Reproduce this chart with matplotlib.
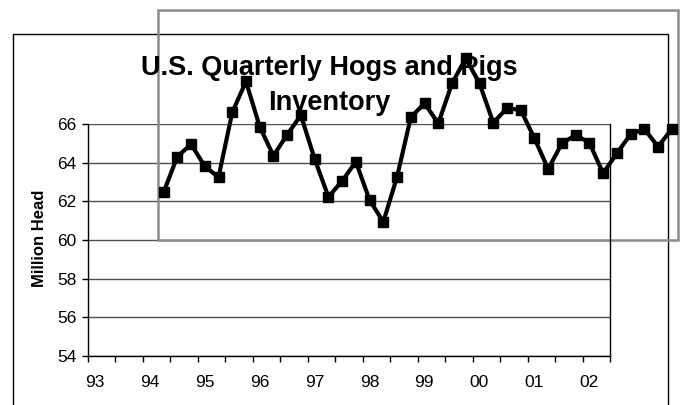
import matplotlib.pyplot as plt
import numpy as np
from matplotlib.patches import Rectangle
from matplotlib.transforms import blended_transform_factory

plt.rcParams['font.family'] = ['Liberation Sans', 'DejaVu Sans']

# quarterly inventory, million head (first quarter shown is 1994 Q2)
inventory = [62.46, 64.31, 64.95, 63.82, 63.24, 66.60, 68.20, 65.86, 64.36, 65.45,
             66.45, 64.19, 62.23, 63.05, 64.05, 62.06, 60.94, 63.27, 66.35, 67.07,
             66.03, 68.10, 69.40, 68.10, 66.07, 66.81, 66.73, 65.26, 63.67, 65.00,
             65.43, 65.03, 63.45, 64.48, 65.47, 65.74, 64.83, 65.74]
first_quarter = 94.375
year_labels = ['93', '94', '95', '96', '97', '98', '99', '00', '01', '02']
year_starts = [93, 94, 95, 96, 97, 98, 99, 100, 101, 102]
y_ticks = [54, 56, 58, 60, 62, 64, 66]
title_lines = ['U.S. Quarterly Hogs and Pigs', 'Inventory']

W, H = 683, 405
fig = plt.figure(figsize=(W / 100, H / 100), dpi=100)
ax = fig.add_axes([88 / W, 1 - 356 / H, (610 - 88) / W, (356 - 124) / H])

x = first_quarter + 0.25 * np.arange(len(inventory))

ax.set_xlim(93, 102.5)
ax.set_ylim(54, 66)
ax.set_axisbelow(True)
ax.yaxis.grid(True, color='#505050', lw=1)
ax.set_yticks(y_ticks)
ax.set_xticks(np.arange(93, 102.51, 0.5))
ax.set_xticklabels([])
ax.tick_params(axis='both', direction='out', length=4.5, width=1, color='black',
               labelsize=12.5, pad=4)
ax.spines['top'].set_visible(False)
for s in ['left', 'bottom', 'right']:
    ax.spines[s].set_linewidth(1)

trans = blended_transform_factory(ax.transData, ax.transAxes)
for yr, lab in zip(year_starts, year_labels):
    ax.text(yr + 0.12, -0.115, lab, transform=trans, ha='center', va='center',
            fontsize=12.5)

ax.text(39 / W, 1 - 238 / H, 'Million Head', transform=fig.transFigure,
        rotation=90, ha='center', va='center', fontsize=12, fontweight='bold')

# outer chart frame and the shifted grey frame
ax.add_artist(Rectangle((13 / W, -0.2), (668 - 13) / W, 1.2 - 34 / H,
                        transform=fig.transFigure, fill=False, ec='black',
                        lw=1, clip_on=False, zorder=1.2))
ax.add_artist(Rectangle((158 / W, 1 - 240 / H), (678 - 158) / W, (240 - 10) / H,
                        transform=fig.transFigure, fill=False, ec='#8c8c8c',
                        lw=1.8, clip_on=False, zorder=1.5))

for line, base in zip(title_lines, [75, 110]):
    ax.text(329 / W, 1 - base / H, line, transform=fig.transFigure,
            ha='center', va='baseline', fontsize=19.5, fontweight='bold',
            zorder=2)

ax.plot(x, inventory, color='black', lw=3, marker='s', ms=6.5,
        clip_on=False, zorder=3)

fig.savefig('out.png', dpi=100)
